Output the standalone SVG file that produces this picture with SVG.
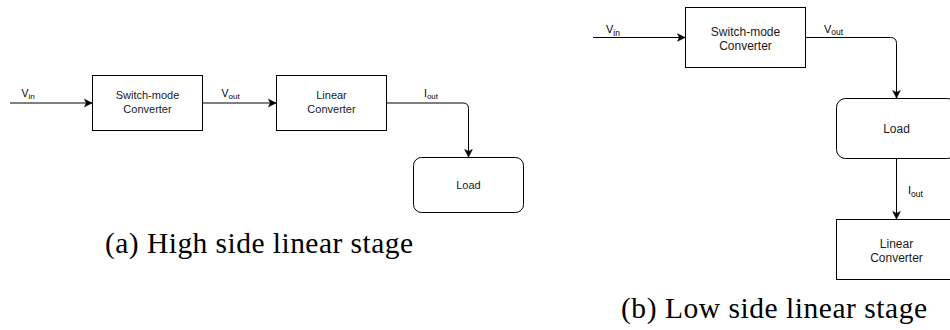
<svg xmlns="http://www.w3.org/2000/svg" width="950" height="330" viewBox="0 0 950 330">
  <style>
    .box { fill: #ffffff; stroke: #000000; stroke-width: 1; }
    .wire { fill: none; stroke: #000000; stroke-width: 1; }
    .node-s { font-family: "Liberation Sans", Arial, sans-serif; font-size: 11px; fill: #1a1a1a; text-anchor: middle; }
    .node-l { font-family: "Liberation Sans", Arial, sans-serif; font-size: 12px; fill: #1a1a1a; text-anchor: middle; }
    .lbl-s { font-family: "Liberation Sans", Arial, sans-serif; font-size: 10.5px; fill: #000000; }
    .lbl-l { font-family: "Liberation Sans", Arial, sans-serif; font-size: 11px; fill: #000000; }
    .sub-s { font-size: 8px; }
    .sub-l { font-size: 8.5px; }
    .caption { font-family: "Liberation Serif", "Times New Roman", serif; font-size: 29.5px; fill: #000000; }
  </style>
  <defs>
    <marker id="arrow" markerUnits="userSpaceOnUse" markerWidth="10" markerHeight="10" viewBox="-8 -5 10 10" refX="0" refY="0" orient="auto">
      <path d="M-7.5,-3.8 L0,0 L-7.5,3.8 L-5.6,0 Z" fill="#000000" stroke="#000000" stroke-width="0.6" stroke-linejoin="miter"/>
    </marker>
  </defs>
  <rect width="950" height="330" fill="#ffffff"/>

  <!-- (a) high side linear stage -->
  <g id="a-switch">
    <rect class="box" x="92.5" y="75.5" width="110" height="55"/>
    <text class="node-s" x="147.5" y="99.3">Switch-mode</text>
    <text class="node-s" x="147.5" y="113.3">Converter</text>
  </g>
  <g id="a-linear">
    <rect class="box" x="276.5" y="75.5" width="110" height="55"/>
    <text class="node-s" x="331.5" y="99.3">Linear</text>
    <text class="node-s" x="331.5" y="113.3">Converter</text>
  </g>
  <g id="a-load">
    <rect class="box" x="413.5" y="157.5" width="110" height="55" rx="8" ry="8"/>
    <text class="node-s" x="468.5" y="189">Load</text>
  </g>
  <g id="a-connectors">
    <path class="wire" d="M10,103 L92,103" marker-end="url(#arrow)"/>
    <path class="wire" d="M202.5,103 L276,103" marker-end="url(#arrow)"/>
    <path class="wire" d="M386.5,103 L463,103 Q468.5,103 468.5,108.5 L468.5,157" marker-end="url(#arrow)"/>
    <text class="lbl-s" x="21.5" y="96.5">V<tspan class="sub-s" dy="2">in</tspan></text>
    <text class="lbl-s" x="221.5" y="96.5">V<tspan class="sub-s" dy="2">out</tspan></text>
    <text class="lbl-s" x="424" y="97">I<tspan class="sub-s" dy="2">out</tspan></text>
  </g>
  <text class="caption" x="105" y="253" textLength="308" lengthAdjust="spacing">(a) High side linear stage</text>

  <!-- (b) low side linear stage -->
  <g id="b-switch">
    <rect class="box" x="685.5" y="7.5" width="120" height="60"/>
    <text class="node-l" x="745.5" y="35.7">Switch-mode</text>
    <text class="node-l" x="745.5" y="50">Converter</text>
  </g>
  <g id="b-load">
    <rect class="box" x="836.5" y="98.5" width="120" height="60" rx="9" ry="9"/>
    <text class="node-l" x="896.5" y="132.5">Load</text>
  </g>
  <g id="b-linear">
    <rect class="box" x="836.5" y="219.5" width="120" height="60"/>
    <text class="node-l" x="896.5" y="247.5">Linear</text>
    <text class="node-l" x="896.5" y="262">Converter</text>
  </g>
  <g id="b-connectors">
    <path class="wire" d="M593,37.5 L685,37.5" marker-end="url(#arrow)"/>
    <path class="wire" d="M805.5,37.5 L890.5,37.5 Q896.5,37.5 896.5,43.5 L896.5,98" marker-end="url(#arrow)"/>
    <path class="wire" d="M896.5,158.5 L896.5,219" marker-end="url(#arrow)"/>
    <text class="lbl-l" x="606" y="33">V<tspan class="sub-l" dy="2.5">in</tspan></text>
    <text class="lbl-l" x="824" y="32.5">V<tspan class="sub-l" dy="2.5">out</tspan></text>
    <text class="lbl-l" x="908" y="194">I<tspan class="sub-l" dy="2.5">out</tspan></text>
  </g>
  <text class="caption" x="621" y="317.5" textLength="306" lengthAdjust="spacing">(b) Low side linear stage</text>
</svg>
